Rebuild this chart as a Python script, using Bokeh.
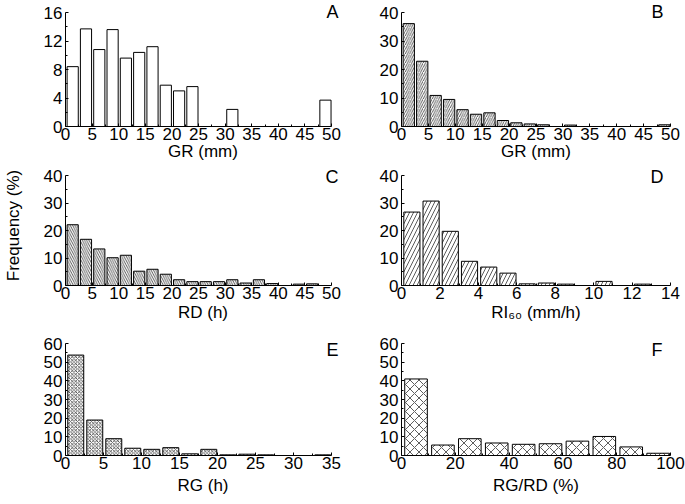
from bokeh.plotting import figure
from bokeh.layouts import gridplot
from bokeh.models import Range1d, FixedTicker, Label
from bokeh.embed import file_html
from bokeh.resources import INLINE

# ---- data (frequency in %, per bin) ----
gr_a_freq = [8.4, 13.7, 10.8, 13.6, 9.6, 10.4, 11.2, 5.8, 5.0, 5.6,
             0, 0, 2.4, 0, 0, 0, 0, 0, 0, 3.7]
gr_b_freq = [36.1, 22.9, 10.9, 9.5, 5.9, 4.3, 4.8, 2.1, 1.3, 0.9,
             0.6, 0, 0.5, 0, 0, 0, 0, 0, 0, 0.6]
rd_freq = [22.1, 16.8, 13.3, 10.1, 11.0, 5.2, 5.9, 4.1, 2.1, 1.4,
           1.4, 1.4, 2.1, 0.9, 2.1, 0.7, 0, 0.5, 0.6, 0]
ri60_freq = [26.7, 30.7, 19.7, 8.8, 6.7, 4.5, 0.6, 0.9, 0.5, 0, 1.5, 0, 0.5, 0]
rg_freq = [53.8, 19.0, 9.0, 3.9, 3.3, 4.2, 0.9, 3.3, 0.35, 0.7, 0.35, 0, 0, 0.35]
rgrd_freq = [41.0, 5.6, 9.0, 6.7, 6.0, 6.3, 7.7, 10.2, 4.6, 1.2]

bin_width_a = 2.5
bin_width_b = 2.5
bin_width_c = 2.5
bin_width_d = 1.0
bin_width_e = 2.5
bin_width_f = 10.0

x_ticks_a = list(range(0, 51, 5))
x_ticks_b = list(range(0, 51, 5))
x_ticks_c = list(range(0, 51, 5))
x_ticks_d = list(range(0, 15, 2))
x_ticks_e = list(range(0, 36, 5))
x_ticks_f = list(range(0, 101, 20))
y_ticks_a = [0, 4, 8, 12, 16]
y_ticks_40 = [0, 10, 20, 30, 40]
y_ticks_60 = [0, 10, 20, 30, 40, 50, 60]

FONT = "Liberation Sans"
FS = "17px"


def panel(freq, bw, xticks, yticks, xlabel, ylabel, letter, letter_px,
          hatch, hscale, canvas, frame, pads, lab_standoff):
    cx, cy, cw, ch = canvas
    L, R, T, B = frame
    pad_r, pad_t = pads
    xmax = xticks[-1]
    ymax = yticks[-1]
    x_end = xmax + pad_r * xmax / (R - L)
    y_end = ymax + pad_t * ymax / (B - T)
    p = figure(width=cw, height=ch,
               x_range=Range1d(0, x_end), y_range=Range1d(0, y_end),
               output_backend="svg", toolbar_location=None,
               min_border_left=L - cx, min_border_right=cx + cw - (R + pad_r),
               min_border_top=(T - pad_t) - cy, min_border_bottom=cy + ch - B)
    p.outline_line_color = None
    p.grid.visible = False
    p.background_fill_color = None
    p.border_fill_color = None

    lefts, rights, tops = [], [], []
    for i, v in enumerate(freq):
        if v > 0:
            edge = i * bw
            lefts.append(edge + 0.12 * bw)
            rights.append(edge + 0.96 * bw)
            tops.append(v)
    kw = dict(fill_color="white", line_color="black", line_width=1)
    if hatch:
        kw.update(hatch_pattern=hatch, hatch_scale=hscale,
                  hatch_color="black", hatch_weight=0.8, hatch_alpha=0.8)
    p.quad(left=lefts, right=rights, top=tops, bottom=0, **kw)

    xminor = [(a + b) / 2 for a, b in zip(xticks[:-1], xticks[1:])]
    yminor = [(a + b) / 2 for a, b in zip(yticks[:-1], yticks[1:])]
    p.xaxis.ticker = FixedTicker(ticks=xticks, minor_ticks=xminor)
    p.yaxis.ticker = FixedTicker(ticks=yticks, minor_ticks=yminor)
    p.xaxis.bounds = (0, xmax)
    p.yaxis.bounds = (0, ymax)

    for ax in (p.xaxis[0], p.yaxis[0]):
        ax.axis_line_color = "black"
        ax.axis_line_width = 1
        ax.major_tick_in = 3
        ax.major_tick_out = 0
        ax.minor_tick_in = 2
        ax.minor_tick_out = 0
        ax.major_tick_line_color = "black"
        ax.minor_tick_line_color = "black"
        ax.major_label_text_font = FONT
        ax.major_label_text_font_size = FS
        ax.major_label_text_color = "black"
        ax.axis_label_text_font = FONT
        ax.axis_label_text_font_size = FS
        ax.axis_label_text_font_style = "normal"
        ax.axis_label_text_color = "black"
    p.xaxis.major_label_standoff = 1
    p.yaxis.major_label_standoff = 3
    p.xaxis.axis_label = xlabel
    p.xaxis.axis_label_standoff = lab_standoff
    if ylabel:
        p.yaxis.axis_label = ylabel
        p.yaxis.axis_label_standoff = 18

    lx_px, ly_px = letter_px
    p.add_layout(Label(x=xmax * (lx_px - L) / (R - L),
                       y=ymax * (B - ly_px) / (B - T),
                       text=letter, text_align="right", text_baseline="middle",
                       text_font=FONT, text_font_size="18px",
                       text_color="black"))
    return p


COL1 = (0, 342)
COL2 = (342, 343)
ROW1 = (0, 165)
ROW2 = (165, 165)
ROW3 = (330, 174)


def cv(col, row):
    return (col[0], row[0], col[1], row[1])


pa = panel(gr_a_freq, bin_width_a, x_ticks_a, y_ticks_a, "GR (mm)", None,
           "A", (338, 11), None, 0, cv(COL1, ROW1), (63, 331, 12, 126), (9, 11), -1)
pb = panel(gr_b_freq, bin_width_b, x_ticks_b, y_ticks_40, "GR (mm)", None,
           "B", (663, 11), "/", 4.5, cv(COL2, ROW1), (401, 670, 12, 126), (0, 11), -1)
pc = panel(rd_freq, bin_width_c, x_ticks_c, y_ticks_40, "RD (h)", "Frequency (%)",
           "C", (338, 176), "\\", 4.5, cv(COL1, ROW2), (63, 331, 175, 285), (9, 10), 1)
pd = panel(ri60_freq, bin_width_d, x_ticks_d, y_ticks_40, "RI\u2086\u2080 (mm/h)", None,
           "D", (663, 176), "/", 8, cv(COL2, ROW2), (401, 670, 175, 285), (0, 10), 1)
pe = panel(rg_freq, bin_width_e, x_ticks_e, y_ticks_60, "RG (h)", None,
           "E", (338, 349), "x", 3.5, cv(COL1, ROW3), (63, 331, 343, 455), (9, 6), 4)
pf = panel(rgrd_freq, bin_width_f, x_ticks_f, y_ticks_60, "RG/RD (%)", None,
           "F", (662, 349), "x", 9, cv(COL2, ROW3), (401, 670, 343, 455), (0, 6), 4)

grid = gridplot([[pa, pb], [pc, pd], [pe, pf]], toolbar_location=None)

open("out.html", "w").write(file_html(grid, INLINE))
